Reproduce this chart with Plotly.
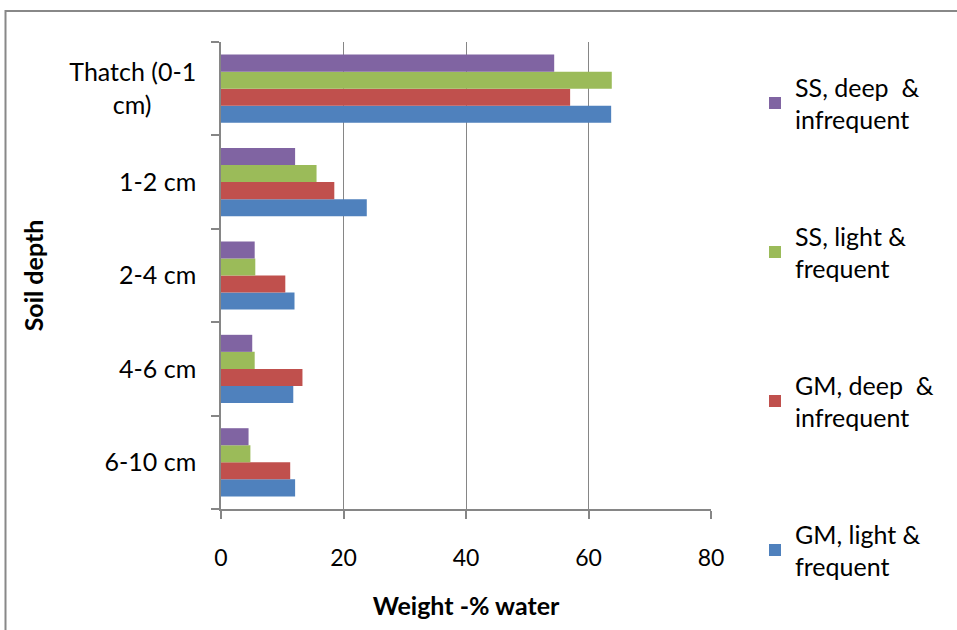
import plotly.graph_objects as go

NB = "\u00a0"
categories = ["6-10 cm", "4-6 cm", "2-4 cm", "1-2 cm", "Thatch (0-1<br>cm)" + NB * 7]
gm_light = [12.1, 11.8, 12.0, 23.8, 63.7]
gm_deep = [11.3, 13.3, 10.5, 18.5, 57.0]
ss_light = [4.8, 5.5, 5.6, 15.6, 63.8]
ss_deep = [4.5, 5.1, 5.5, 12.1, 54.4]

series = [
    ("GM, light &<br>frequent", gm_light, "#4F81BD", 4),
    ("GM, deep  &<br>infrequent", gm_deep, "#C0504D", 3),
    ("SS, light &<br>frequent", ss_light, "#9BBB59", 2),
    ("SS, deep  &<br>infrequent", ss_deep, "#8064A2", 1),
]
x_ticks = [0, 20, 40, 60, 80]

FONT = "Lato"
FS = 25
fig = go.Figure()
for i, (name, vals, col, rank) in enumerate(series):
    fig.add_trace(go.Bar(
        y=categories, x=vals, name=name, orientation="h",
        marker=dict(color=col, line=dict(width=0)),
        legendgroup=f"g{i}", legendrank=rank,
    ))

L, R, T, B = 221, 246, 42, 121
W, H = 957, 630
pw, ph = W - L - R, H - T - B

def px_x(p):
    return (p - L) / pw

def px_y(p):
    return (H - B - p) / ph

fig.update_layout(
    width=W, height=H,
    margin=dict(l=L, r=R, t=T, b=B, pad=0),
    paper_bgcolor="white", plot_bgcolor="white",
    barmode="group", bargap=0.27, bargroupgap=0,
    font=dict(family=FONT, size=FS, color="#000000"),
    showlegend=True,
    legend=dict(
        x=px_x(755), xanchor="left", y=px_y(64), yanchor="top",
        traceorder="grouped", tracegroupgap=81, maxheight=620,
        font=dict(family=FONT, size=FS, color="#000000"),
        bgcolor="rgba(0,0,0,0)",
    ),
    xaxis=dict(
        range=[0, 80], tickvals=x_ticks, ticktext=[str(v) for v in x_ticks],
        tickfont=dict(size=23),
        showgrid=True, gridcolor="#868686", gridwidth=1.3,
        showline=True, linecolor="#868686", linewidth=1.5,
        ticks="outside", ticklen=8, tickcolor="#868686", tickwidth=1.5,
        ticklabelstandoff=20, zeroline=False,
        title=dict(text="<b>Weight -% water</b>", font=dict(family=FONT, size=FS), standoff=27),
        fixedrange=True,
    ),
    yaxis=dict(
        type="category", categoryorder="array", categoryarray=categories,
        showgrid=False, showline=True, linecolor="#868686", linewidth=1.5,
        ticks="outside", ticklen=8, tickcolor="#868686", tickwidth=1.5,
        tickson="boundaries", ticklabelstandoff=18,
        title=dict(text="<b>Soil depth</b>", font=dict(family=FONT, size=FS), standoff=19),
        fixedrange=True,
    ),
    shapes=[dict(
        type="rect", xref="paper", yref="paper",
        x0=px_x(5.5), x1=px_x(975), y0=px_y(650), y1=px_y(11),
        line=dict(color="#888888", width=2), fillcolor="rgba(0,0,0,0)", layer="below",
    )],
)

fig.write_html("out.html")
